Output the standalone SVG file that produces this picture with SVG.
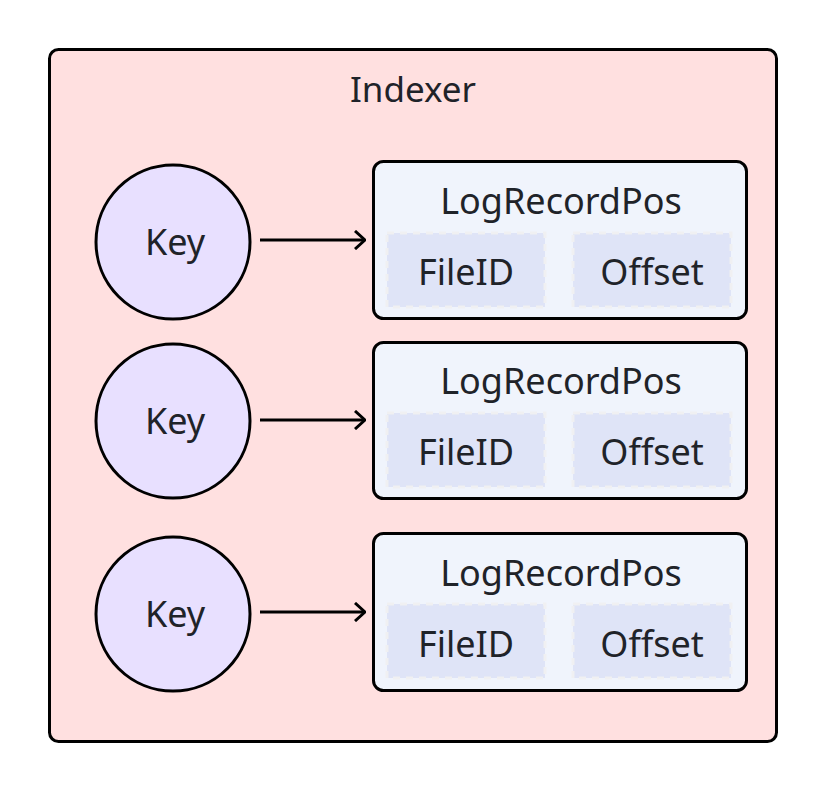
<svg xmlns="http://www.w3.org/2000/svg" width="826" height="792" viewBox="0 0 826 792">
<style>
text{font-family:"Source Sans Pro","Noto Sans","Liberation Sans",sans-serif;fill:#1f2329;text-anchor:middle}
.outer{fill:#ffe0e0;stroke:#000;stroke-width:3}
.key{fill:#e8e0ff;stroke:#000;stroke-width:3}
.pos{fill:#f0f4fc;stroke:#000;stroke-width:3}
.field{fill:#dfe4f7;stroke:#f0f0f2;stroke-width:3;stroke-dasharray:7 6}
.t36{font-size:36px}
.t35{font-size:35px}
.conn{stroke:#000;stroke-width:3;fill:none}
</style>
<defs>
<marker id="arr" viewBox="0 0 12 20" refX="11" refY="10" markerWidth="12" markerHeight="20" markerUnits="userSpaceOnUse" orient="auto">
<path d="M1,1 L11,10 L1,19" fill="none" stroke="#000" stroke-width="3"/>
</marker>
</defs>
<g id="indexer">
<rect class="outer" x="49.5" y="49.5" width="727" height="692" rx="9"/>
<text class="t35" x="413" y="102">Indexer</text>
</g>
<g id="key1"><circle class="key" cx="173" cy="242" r="77"/><text class="t36" x="175" y="255">Key</text></g>
<g id="key2"><circle class="key" cx="173" cy="421" r="77"/><text class="t36" x="175" y="434">Key</text></g>
<g id="key3"><circle class="key" cx="173" cy="614" r="77"/><text class="t36" x="175" y="627">Key</text></g>
<g id="pos1">
<rect class="pos" x="373.5" y="161.5" width="373" height="157" rx="10"/>
<text class="t36" x="561" y="214">LogRecordPos</text>
<rect class="field" x="387" y="233" width="158" height="74"/>
<text class="t36" x="466" y="285">FileID</text>
<rect class="field" x="573" y="233" width="158" height="74"/>
<text class="t36" x="652" y="285">Offset</text>
</g>
<g id="pos2">
<rect class="pos" x="373.5" y="342.5" width="373" height="156" rx="10"/>
<text class="t36" x="561" y="394">LogRecordPos</text>
<rect class="field" x="387" y="413" width="158" height="74"/>
<text class="t36" x="466" y="465">FileID</text>
<rect class="field" x="573" y="413" width="158" height="74"/>
<text class="t36" x="652" y="465">Offset</text>
</g>
<g id="pos3">
<rect class="pos" x="373.5" y="533.5" width="373" height="157" rx="10"/>
<text class="t36" x="561" y="586">LogRecordPos</text>
<rect class="field" x="387" y="604" width="158" height="74"/>
<text class="t36" x="466" y="657">FileID</text>
<rect class="field" x="573" y="604" width="158" height="74"/>
<text class="t36" x="652" y="657">Offset</text>
</g>
<g id="connectors">
<line class="conn" x1="260" y1="240" x2="365" y2="240" marker-end="url(#arr)"/>
<line class="conn" x1="260" y1="420" x2="365" y2="420" marker-end="url(#arr)"/>
<line class="conn" x1="260" y1="612" x2="365" y2="612" marker-end="url(#arr)"/>
</g>
</svg>
